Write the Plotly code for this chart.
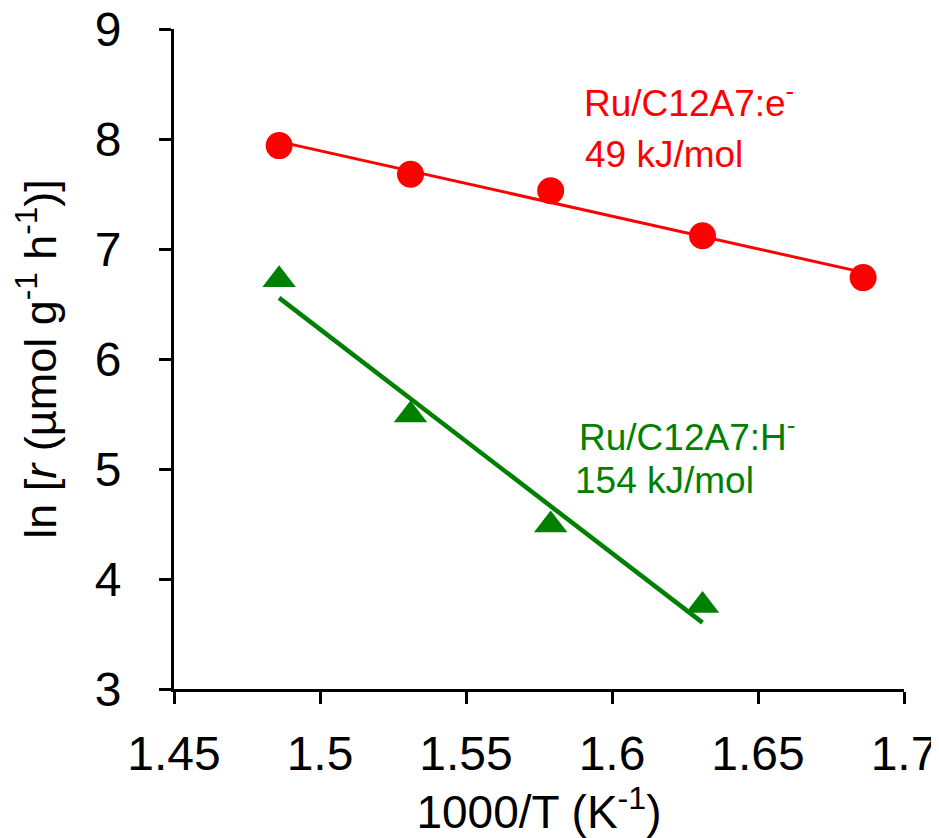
import numpy as np
import plotly.graph_objects as go

# Data
x_e = [1.486, 1.531, 1.579, 1.631, 1.686]
y_e = [7.94, 7.68, 7.53, 7.12, 6.74]
x_h = [1.486, 1.531, 1.579, 1.631]
y_h = [6.72, 5.49, 4.49, 3.76]
x_ticks = [1.45, 1.5, 1.55, 1.6, 1.65, 1.7]
x_tick_labels = ["1.45", "1.5", "1.55", "1.6", "1.65", "1.7"]
y_ticks = [3, 4, 5, 6, 7, 8, 9]

RED = "#FF0000"
GREEN = "#008000"
FONT = "Liberation Sans, Arial, sans-serif"

fig = go.Figure()

# Trend lines (least-squares fits of data)
pe = np.polyfit(x_e, y_e, 1)
ph = np.polyfit(x_h, y_h, 1)
fx_e = [min(x_e), max(x_e)]
fx_h = [min(x_h), max(x_h)]
fig.add_trace(go.Scatter(x=fx_e, y=list(np.polyval(pe, fx_e)), mode="lines",
                         line=dict(color=RED, width=3), showlegend=False, hoverinfo="skip"))
fig.add_trace(go.Scatter(x=fx_h, y=list(np.polyval(ph, fx_h)), mode="lines",
                         line=dict(color=GREEN, width=4.5), showlegend=False, hoverinfo="skip"))

fig.add_trace(go.Scatter(x=x_e, y=y_e, mode="markers", name="Ru/C12A7:e-",
                         marker=dict(symbol="circle", size=27, color=RED), showlegend=False))
fig.add_trace(go.Scatter(x=x_h, y=y_h, mode="markers", name="Ru/C12A7:H-",
                         marker=dict(symbol="triangle-up", size=29, color=GREEN), showlegend=False))

ann_font = 37
fig.add_annotation(x=1.5897, y=8.35, xref="x", yref="y", xanchor="left", yanchor="middle",
                   text="Ru/C12A7:e<sup>-</sup>", showarrow=False,
                   font=dict(family=FONT, size=ann_font, color=RED))
fig.add_annotation(x=1.590, y=7.855, xref="x", yref="y", xanchor="left", yanchor="middle",
                   text="49 kJ/mol", showarrow=False,
                   font=dict(family=FONT, size=ann_font, color=RED))
fig.add_annotation(x=1.588, y=5.31, xref="x", yref="y", xanchor="left", yanchor="middle",
                   text="Ru/C12A7:H<sup>-</sup>", showarrow=False,
                   font=dict(family=FONT, size=ann_font, color=GREEN))
fig.add_annotation(x=1.5866, y=4.90, xref="x", yref="y", xanchor="left", yanchor="middle",
                   text="154 kJ/mol", showarrow=False,
                   font=dict(family=FONT, size=ann_font, color=GREEN))

fig.update_layout(
    width=939, height=838,
    margin=dict(l=166, r=43, t=21, b=157, autoexpand=False),
    plot_bgcolor="white", paper_bgcolor="white",
    font=dict(family=FONT, color="black"),
    showlegend=False,
)
fig.update_xaxes(range=[1.45, 1.7], tickvals=x_ticks, ticktext=x_tick_labels,
                 showgrid=False, zeroline=False, showline=True, linecolor="black", linewidth=3,
                 ticks="outside", ticklen=12, tickwidth=3, tickcolor="black",
                 tickfont=dict(size=48, family=FONT), ticklabelstandoff=8,
                 ticklabeloverflow="allow", automargin=False,
                 title=dict(text="1000/T (K<sup>-1</sup>)", font=dict(size=46, family=FONT), standoff=6))
fig.update_yaxes(range=[3, 9], tickvals=y_ticks,
                 showgrid=False, zeroline=False, showline=True, linecolor="black", linewidth=3,
                 ticks="outside", ticklen=12, tickwidth=3, tickcolor="black",
                 tickfont=dict(size=48, family=FONT), ticklabelstandoff=28,
                 ticklabeloverflow="allow", automargin=False,
                 title=dict(text="ln [<i>r</i> (µmol g<sup>-1</sup> h<sup>-1</sup>)]",
                            font=dict(size=45, family=FONT), standoff=30))

fig.write_html("out.html")
